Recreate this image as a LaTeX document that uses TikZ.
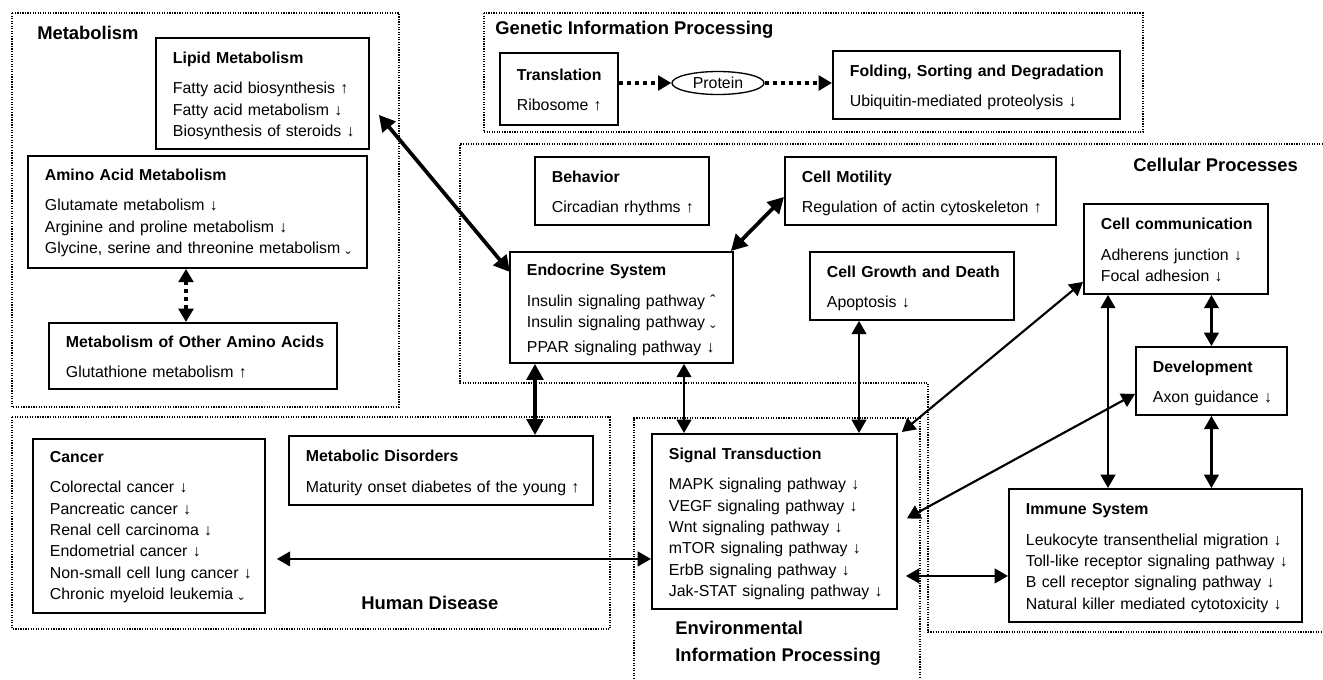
\documentclass[tikz,border=0pt]{standalone}
\usepackage{fontspec}
\setmainfont{Liberation Sans}
\usetikzlibrary{arrows.meta,calc,shapes.geometric}
\newcommand{\pathbox}[2]{\begin{tabular}{@{}l@{}}\rule{0pt}{14.7pt}\textbf{#1}\\[6.9pt]#2\end{tabular}}
\newcommand{\lowv}{\raisebox{-0.62em}{ˇ}}

\begin{document}
\begin{tikzpicture}
\tikzset{x={(0.75pt,0pt)}, y={(0pt,-0.75pt)}}
\tikzset{
  box/.style 2 args={draw, line width=1.4pt, anchor=north west, align=left, inner xsep=12.75pt, inner ysep=0pt,
    text width=#1, minimum height=#2, font=\fontsize{11.9}{16}\selectfont},
  region/.style={draw, densely dotted, line width=0.9pt},
  regionlabel/.style={anchor=west, inner sep=0pt, align=left, font=\fontsize{13.8}{20.25}\selectfont\bfseries},
  link/.style={{Triangle[length=10pt,width=11pt]}-{Triangle[length=10pt,width=11pt]}, line width=1.6pt},
  biglink/.style={{Triangle[length=12pt,width=12.5pt]}-{Triangle[length=12pt,width=12.5pt]}, line width=2.8pt},
  dotlink/.style={line width=2.8pt, dash pattern=on 3pt off 3pt}
}
\useasboundingbox (0,0) rectangle (1323,679);

\draw[region] (12,13) rectangle (399,407);
\draw[region] (484,13) rectangle (1143,132);
\draw[region] (1323,144) -- (460,144) -- (460,383) -- (928,383) -- (928,632) -- (1323,632);
\draw[region] (12,417) rectangle (610,629);
\draw[region] (634,679) -- (634,418) -- (920,418) -- (920,679);

\node[regionlabel] (metablabel) at (37,33) {Metabolism};
\node[regionlabel] (geneticlabel) at (495,30) {Genetic Information Processing};
\node[regionlabel] (cellularlabel) at (1133,165) {Cellular Processes};
\node[regionlabel] (diseaselabel) at (361,603) {Human Disease};
\node[regionlabel] (envlabel) at (675,643.5) {Environmental\\Information Processing};

\node[box={134.25pt}{83.25pt}] (lipid) at (155,37) {\pathbox{Lipid Metabolism}{Fatty acid biosynthesis ↑\\Fatty acid metabolism ↓\\Biosynthesis of steroids ↓}};
\node[box={228.75pt}{84pt}] (amino) at (27,155) {\pathbox{Amino Acid Metabolism}{Glutamate metabolism ↓\\Arginine and proline metabolism ↓\\Glycine, serine and threonine metabolism \lowv}};
\node[box={190.5pt}{49.5pt}] (otheramino) at (48,322) {\pathbox{Metabolism of Other Amino Acids}{Glutathione metabolism ↑}};

\node[box={63pt}{54pt}] (translation) at (499,52) {\pathbox{Translation}{Ribosome ↑}};
\node[draw, ellipse, line width=1pt, minimum width=69pt, minimum height=17.25pt, inner sep=0pt, font=\fontsize{11.9}{16}\selectfont] (protein) at (718,83) {Protein};
\node[box={189.75pt}{51pt}] (folding) at (832,50) {\pathbox{Folding, Sorting and Degradation}{Ubiquitin-mediated proteolysis ↓}};

\node[box={105pt}{51pt}] (behavior) at (534,156) {\pathbox{Behavior}{Circadian rhythms ↑}};
\node[box={177.75pt}{51pt}] (motility) at (784,156) {\pathbox{Cell Motility}{Regulation of actin cytoskeleton ↑}};
\node[box={141.75pt}{83.25pt}] (endocrine) at (509,251) {\pathbox{Endocrine System}{Insulin signaling pathway ˆ\\Insulin signaling pathway \lowv\\PPAR signaling pathway ↓}};
\node[box={127.5pt}{51pt}] (growth) at (809,251) {\pathbox{Cell Growth and Death}{Apoptosis ↓}};
\node[box={112.5pt}{67.5pt}] (cellcomm) at (1083,203) {\pathbox{Cell communication}{Adherens junction ↓\\Focal adhesion ↓}};
\node[box={87.75pt}{51pt}] (development) at (1135,346) {\pathbox{Development}{Axon guidance ↓}};
\node[box={194.25pt}{99.75pt}] (immune) at (1008,488) {\pathbox{Immune System}{Leukocyte transenthelial migration ↓\\Toll-like receptor signaling pathway ↓\\B cell receptor signaling pathway ↓\\Natural killer mediated cytotoxicity ↓}};

\node[box={158.25pt}{131.25pt}] (signal) at (651,433) {\pathbox{Signal Transduction}{MAPK signaling pathway ↓\\VEGF signaling pathway ↓\\Wnt signaling pathway ↓\\mTOR signaling pathway ↓\\ErbB signaling pathway ↓\\Jak-STAT signaling pathway ↓}};

\node[box={148.5pt}{130.5pt}] (cancer) at (32,438) {\pathbox{Cancer}{Colorectal cancer ↓\\Pancreatic cancer ↓\\Renal cell carcinoma ↓\\Endometrial cancer ↓\\Non-small cell lung cancer ↓\\Chronic myeloid leukemia \lowv}};
\node[box={202.5pt}{51.75pt}] (metdis) at (288,435) {\pathbox{Metabolic Disorders}{Maturity onset diabetes of the young ↑}};

\draw[biglink] ($(lipid.south east)+(9,-35)$) -- ($(endocrine.north west)+(1,21)$);
\draw[biglink] ($(endocrine.north east)+(-3,0)$) -- ($(motility.west)+(0,6)$);
\draw[biglink] ($(endocrine.south west)+(26,0)$) -- ($(metdis.north west)+(247,0)$);
\draw[link] ($(endocrine.south west)+(175,0)$) -- ($(signal.north west)+(33,0)$);
\draw[link] ($(growth.south west)+(50,0)$) -- ($(signal.north west)+(208,0)$);
\draw[link] ($(cellcomm.south west)+(0,-13)$) -- ($(signal.north east)+(4,-1)$);
\draw[link] ($(development.west)+(0,13)$) -- ($(signal.east)+(9,-3)$);
\draw[link] ($(immune.west)+(0,20.5)$) -- ($(signal.east)+(8,54.5)$);
\draw[link] ($(cancer.east)+(11,33)$) -- ($(signal.west)+(0,37.5)$);
\draw[link] ($(cellcomm.south west)+(25,0)$) -- ($(immune.north west)+(100,0)$);
\draw[link] (cellcomm.south -| development.north) -- (development.north);
\draw[link] (development.south) -- (immune.north -| development.south);

\draw[dotlink, {Triangle[length=10pt,width=11pt]}-{Triangle[length=10pt,width=11pt]}] ($(amino.south west)+(159,0)$) -- ($(otheramino.north west)+(138,0)$);
\draw[dotlink, -{Triangle[length=10pt,width=11pt]}] (translation.east |- protein.west) -- (protein.west);
\draw[dotlink, -{Triangle[length=10pt,width=11pt]}] (protein.east) -- (protein.east -| folding.west);
\end{tikzpicture}
\end{document}
